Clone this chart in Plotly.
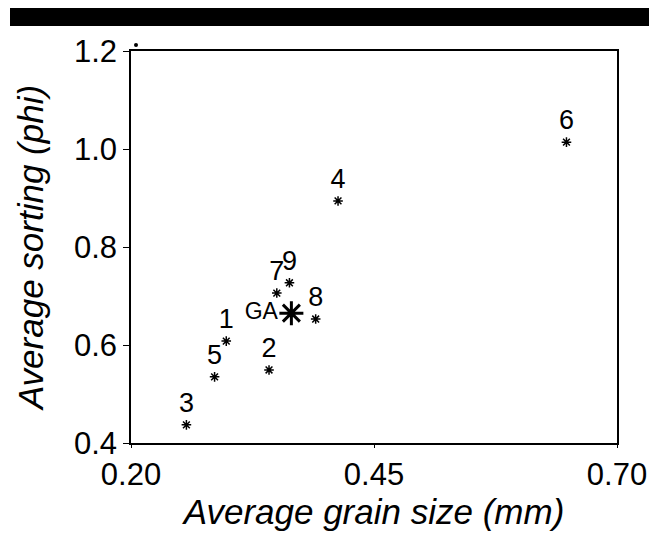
import plotly.graph_objects as go

labels = ["1", "2", "3", "4", "5", "6", "7", "8", "9"]
grain = [0.298, 0.342, 0.257, 0.413, 0.286, 0.648, 0.350, 0.390, 0.363]
sorting = [0.608, 0.549, 0.437, 0.894, 0.535, 1.014, 0.706, 0.653, 0.727]
ga_label = ["GA"]
ga_grain = [0.365]
ga_sorting = [0.665]

x_ticks = [0.20, 0.45, 0.70]
x_ticktext = ["0.20", "0.45", "0.70"]
y_ticks = [0.4, 0.6, 0.8, 1.0, 1.2]
y_ticktext = ["0.4", "0.6", "0.8", "1.0", "1.2"]

FONT = "Liberation Sans, Arial, sans-serif"

fig = go.Figure()
fig.add_trace(go.Scatter(
    x=grain, y=sorting, mode="markers+text", text=labels,
    textposition="top center",
    textfont=dict(family=FONT, size=27, color="black"),
    marker=dict(symbol="asterisk-open", size=8, line=dict(width=1.5, color="black"), color="black"),
    showlegend=False, cliponaxis=False,
))
fig.add_trace(go.Scatter(
    x=ga_grain, y=ga_sorting, mode="markers+text", text=ga_label,
    textposition="middle left",
    textfont=dict(family=FONT, size=23, color="black"),
    marker=dict(symbol="asterisk-open", size=20, line=dict(width=3, color="black"), color="black"),
    showlegend=False, cliponaxis=False,
))

axis_common = dict(
    showline=True, linecolor="black", linewidth=1.5, mirror=True,
    ticks="outside", tickcolor="black", tickwidth=1.2,
    showgrid=False, zeroline=False,
    tickfont=dict(family=FONT, size=31, color="black"),
)

fig.update_layout(
    width=662, height=533,
    margin=dict(l=131, r=45, t=51, b=90),
    paper_bgcolor="white", plot_bgcolor="white",
    xaxis=dict(range=[0.20, 0.70], tickvals=x_ticks, ticktext=x_ticktext, ticklen=3,
               title=dict(text="<i>Average grain size (mm)</i>", font=dict(family=FONT, size=35, color="black"), standoff=4),
               **axis_common),
    yaxis=dict(range=[0.4, 1.2], tickvals=y_ticks, ticktext=y_ticktext, ticklen=6,
               title=dict(text="<i>Average sorting (phi)</i>", font=dict(family=FONT, size=35, color="black"), standoff=20),
               **axis_common),
    shapes=[
        dict(type="rect", xref="paper", yref="paper", x0=(10-131)/486, x1=(649-131)/486,
             y0=(443-8)/392, y1=(443-26)/392,
             fillcolor="black", line=dict(width=0), layer="above"),
        dict(type="circle", xref="paper", yref="paper",
             x0=(134-131)/486, x1=(138-131)/486, y0=(443-47)/392, y1=(443-43)/392,
             fillcolor="black", line=dict(width=0)),
    ],
)

fig.write_html("out.html")
